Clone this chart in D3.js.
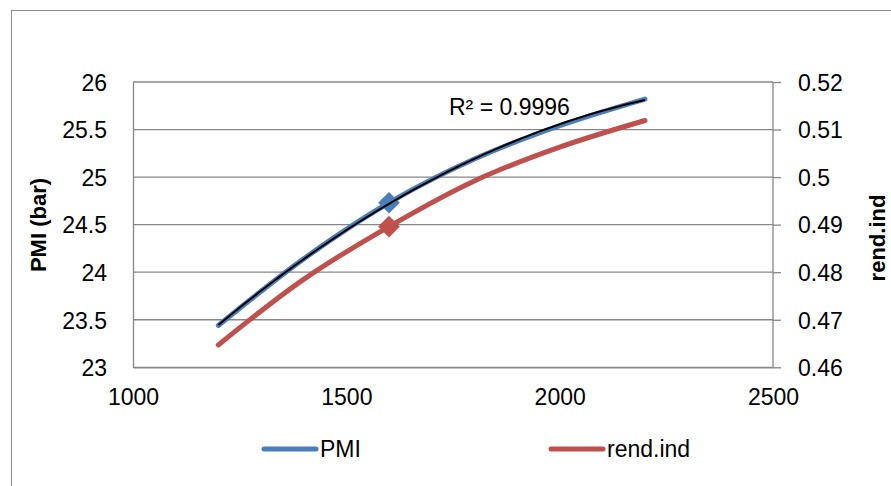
<!DOCTYPE html>
<html>
<head>
<meta charset="utf-8">
<script src="https://cdn.jsdelivr.net/npm/d3@7"></script>
<style>
  html, body { margin: 0; padding: 0; background: #fff; }
  svg { display: block; }
  text { font-family: "Liberation Sans", Arial, sans-serif; fill: #000; }
</style>
</head>
<body>
<svg id="chart" width="891" height="486"></svg>
<script>
// ---- data ----
const speeds = [1200, 1400, 1600, 1800, 2000, 2200];
const pmiValues = [23.44, 24.14, 24.73, 25.19, 25.54, 25.82];
const rendValues = [0.4647, 0.4785, 0.4896, 0.4992, 0.5063, 0.5119];
const markedSpeeds = [1600];
const xTicks = [1000, 1500, 2000, 2500];
const leftTicks = [23, 23.5, 24, 24.5, 25, 25.5, 26];
const rightTicks = [0.46, 0.47, 0.48, 0.49, 0.5, 0.51, 0.52];
const seriesNames = ["PMI", "rend.ind"];
const leftTitle = "PMI (bar)";
const rightTitle = "rend.ind";
const r2Label = "R² = 0.9996";

const blue = "#4a7ebb";
const red = "#c0504d";
const gridColor = "#878787";

const svg = d3.select("#chart");
const plot = { left: 133, right: 773, top: 82, bottom: 367.3 };

// outer chart border
svg.append("rect")
  .attr("x", 11.5).attr("y", 10.5)
  .attr("width", 900).attr("height", 500)
  .attr("fill", "none").attr("stroke", "#8c8c8c").attr("stroke-width", 1);

const x = d3.scaleLinear().domain([1000, 2500]).range([plot.left, plot.right]);
const yL = d3.scaleLinear().domain([23, 26]).range([plot.bottom, plot.top]);
const yR = d3.scaleLinear().domain([0.46, 0.52]).range([plot.bottom, plot.top]);

// gridlines
svg.append("g").selectAll("line").data(leftTicks).join("line")
  .attr("x1", plot.left).attr("x2", plot.right)
  .attr("y1", d => yL(d)).attr("y2", d => yL(d))
  .attr("stroke", gridColor).attr("stroke-width", 1.3);

// left axis
const gL = svg.append("g").attr("transform", `translate(${plot.left},0)`)
  .call(d3.axisLeft(yL).tickValues(leftTicks).tickSize(0).tickPadding(26).tickFormat(d => String(d)));
gL.select(".domain").attr("stroke", gridColor).attr("stroke-width", 1.3);
gL.selectAll("text").attr("font-size", 23).style("font-family", '"Liberation Sans", Arial, sans-serif').attr("dy", "0.36em");

// right axis
const gR = svg.append("g").attr("transform", `translate(${plot.right},0)`)
  .call(d3.axisRight(yR).tickValues(rightTicks).tickSize(8).tickPadding(17).tickFormat(d => String(d)));
gR.select(".domain").attr("stroke", gridColor).attr("stroke-width", 1.3).attr("d", `M0,${plot.top}V${plot.bottom}`);
gR.selectAll("line").attr("stroke", gridColor).attr("stroke-width", 1.3);
gR.selectAll("text").attr("font-size", 23).style("font-family", '"Liberation Sans", Arial, sans-serif').attr("dy", "0.36em");

// bottom axis
const gB = svg.append("g").attr("transform", `translate(0,${plot.bottom})`)
  .call(d3.axisBottom(x).tickValues(xTicks).tickSize(0).tickPadding(26).tickFormat(d => String(d)));
gB.select(".domain").attr("stroke", gridColor).attr("stroke-width", 1.3);
gB.selectAll("text").attr("font-size", 23).style("font-family", '"Liberation Sans", Arial, sans-serif').attr("dy", "0.5em");

// axis titles
svg.append("text")
  .attr("transform", `translate(46,225) rotate(-90)`)
  .attr("text-anchor", "middle").attr("font-size", 22).attr("font-weight", "bold")
  .text(leftTitle);
svg.append("text")
  .attr("transform", `translate(885,238) rotate(-90)`)
  .attr("text-anchor", "middle").attr("font-size", 22).attr("font-weight", "bold")
  .text(rightTitle);

// series lines
const pmiData = speeds.map((s, i) => ({ x: s, y: pmiValues[i] }));
const rendData = speeds.map((s, i) => ({ x: s, y: rendValues[i] }));

const lineL = d3.line().x(d => x(d.x)).y(d => yL(d.y)).curve(d3.curveCatmullRom.alpha(0.5));
const lineR = d3.line().x(d => x(d.x)).y(d => yR(d.y)).curve(d3.curveCatmullRom.alpha(0.5));

svg.append("path").datum(pmiData).attr("d", lineL)
  .attr("fill", "none").attr("stroke", blue).attr("stroke-width", 5).attr("stroke-linecap", "round");
svg.append("path").datum(rendData).attr("d", lineR)
  .attr("fill", "none").attr("stroke", red).attr("stroke-width", 5).attr("stroke-linecap", "round");

// markers
const diamond = d3.symbol().type(d3.symbolDiamond2).size(300);
svg.append("g").selectAll("path").data(pmiData.filter(d => markedSpeeds.includes(d.x))).join("path")
  .attr("d", diamond).attr("transform", d => `translate(${x(d.x)},${yL(d.y)})`)
  .attr("fill", blue);
svg.append("g").selectAll("path").data(rendData.filter(d => markedSpeeds.includes(d.x))).join("path")
  .attr("d", diamond).attr("transform", d => `translate(${x(d.x)},${yR(d.y)})`)
  .attr("fill", red);

// polynomial (order 2) trendline fitted to PMI
function polyFit2(xs, ys) {
  const n = xs.length;
  let s = [0,0,0,0,0], t = [0,0,0];
  for (let i = 0; i < n; i++) {
    const xv = xs[i] / 1000;
    for (let k = 0; k < 5; k++) s[k] += Math.pow(xv, k);
    for (let k = 0; k < 3; k++) t[k] += ys[i] * Math.pow(xv, k);
  }
  const A = [[s[0], s[1], s[2], t[0]], [s[1], s[2], s[3], t[1]], [s[2], s[3], s[4], t[2]]];
  for (let i = 0; i < 3; i++) {
    let p = i;
    for (let r = i + 1; r < 3; r++) if (Math.abs(A[r][i]) > Math.abs(A[p][i])) p = r;
    [A[i], A[p]] = [A[p], A[i]];
    for (let r = 0; r < 3; r++) if (r !== i) {
      const f = A[r][i] / A[i][i];
      for (let c = i; c < 4; c++) A[r][c] -= f * A[i][c];
    }
  }
  const c = [A[0][3] / A[0][0], A[1][3] / A[1][1], A[2][3] / A[2][2]];
  return v => c[0] + c[1] * (v / 1000) + c[2] * (v / 1000) * (v / 1000);
}
const fit = polyFit2(speeds, pmiValues);
const trendX = d3.range(d3.min(speeds), d3.max(speeds) + 1, 10);
svg.append("path").datum(trendX.map(v => ({ x: v, y: fit(v) })))
  .attr("d", d3.line().x(d => x(d.x)).y(d => yL(d.y)))
  .attr("fill", "none").attr("stroke", "#000").attr("stroke-width", 2);

// R² label
svg.append("text").attr("x", 449).attr("y", 115).attr("font-size", 23).text(r2Label);

// legend
const legend = [
  { name: seriesNames[0], color: blue, x: 262 },
  { name: seriesNames[1], color: red, x: 549 }
];
const lg = svg.append("g").selectAll("g").data(legend).join("g")
  .attr("transform", d => `translate(${d.x},449)`);
lg.append("line").attr("x1", 2).attr("x2", 54).attr("y1", 0).attr("y2", 0)
  .attr("stroke", d => d.color).attr("stroke-width", 5).attr("stroke-linecap", "round");
lg.append("text").attr("x", 58).attr("y", 8).attr("font-size", 23).text(d => d.name);
</script>
</body>
</html>
